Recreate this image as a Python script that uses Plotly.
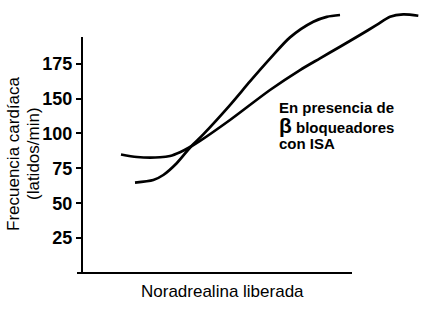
import plotly.graph_objects as go

# Data (x: arbitrary noradrenaline units, y: heart-rate in axis units)
x_isa = [14.44, 20.37, 28.89, 32.59, 36.30, 40.37, 43.70, 54.81, 69.63, 80.74, 88.15, 95.56, 102.96, 109.15, 114.07, 119.0, 124.56]
y_isa = [84.9, 83.1, 82.9, 83.8, 86.5, 90.6, 94.6, 109.6, 131.1, 145.4, 153.8, 162.1, 170.5, 177.7, 183.6, 185.3, 184.3]

x_ctrl = [19.63, 26.41, 30.11, 35.07, 40.37, 45.0, 54.81, 62.22, 69.63, 77.04, 85.67, 90.63, 95.56]
y_ctrl = [64.8, 66.6, 70.2, 78.6, 90.6, 99.5, 120.3, 137.2, 153.5, 168.8, 180.0, 183.5, 184.8]

tick_vals = [25, 50, 75, 100, 125, 150]
tick_text = ["25", "50", "75", "100", "150", "175"]

W, H = 447, 314
L, R, T, B = 82, 7, 5, 38
PW, PH = W - L - R, H - T - B

def px(xp):
    return (xp - L) / PW

def py(yp):
    return (H - B - yp) / PH

fig = go.Figure()
for xs, ys in [(x_isa, y_isa), (x_ctrl, y_ctrl)]:
    fig.add_trace(go.Scatter(x=xs, y=ys, mode="lines",
                             line=dict(color="black", width=2.7, shape="spline", smoothing=0.8),
                             showlegend=False, hoverinfo="skip"))

fig.update_layout(
    width=W, height=H,
    margin=dict(l=L, r=R, t=T, b=B),
    paper_bgcolor="white", plot_bgcolor="white",
    xaxis=dict(range=[0, PW / 2.7], showgrid=False, zeroline=False, showline=False,
               showticklabels=False, ticks=""),
    yaxis=dict(range=[-3 / 1.396, (H - B - T - 3) / 1.396], showgrid=False, zeroline=False,
               showline=False, tickmode="array", tickvals=tick_vals, ticktext=tick_text,
               ticks="outside", ticklen=5, tickwidth=2, tickcolor="black",
               tickfont=dict(family="Liberation Sans, Arial", size=18, color="black", weight="bold")),
)

# axis lines
fig.add_shape(type="line", xref="paper", yref="paper", x0=0, x1=0, y0=py(274), y1=py(37),
              line=dict(color="black", width=2))
fig.add_shape(type="line", xref="paper", yref="paper", x0=px(77), x1=px(352), y0=py(273), y1=py(273),
              line=dict(color="black", width=2))

font_reg = dict(family="Liberation Sans, Arial", size=17, color="black")
font_bold = dict(family="Liberation Sans, Arial", size=15, color="black", weight="bold")

# y title (two lines)
fig.add_annotation(text="Frecuencia cardíaca", xref="paper", yref="paper", x=px(13), y=py(154),
                   textangle=-90, showarrow=False, font=font_reg, xanchor="center", yanchor="middle")
fig.add_annotation(text="(latidos/min)", xref="paper", yref="paper", x=px(33), y=py(154),
                   textangle=-90, showarrow=False, font=font_reg, xanchor="center", yanchor="middle")
# x title
fig.add_annotation(text="Noradrealina liberada", xref="paper", yref="paper", x=px(222), y=py(291),
                   showarrow=False, font=font_reg, xanchor="center", yanchor="middle")

# curve label
for txt, yy in [("En presencia de", 107),
                ("<span style='font-size:21px'>β</span> bloqueadores", 125),
                ("con ISA", 143)]:
    fig.add_annotation(text=txt, xref="paper", yref="paper", x=px(277), y=py(yy),
                       showarrow=False, font=font_bold, xanchor="left", yanchor="middle")

fig.write_html("out.html")
